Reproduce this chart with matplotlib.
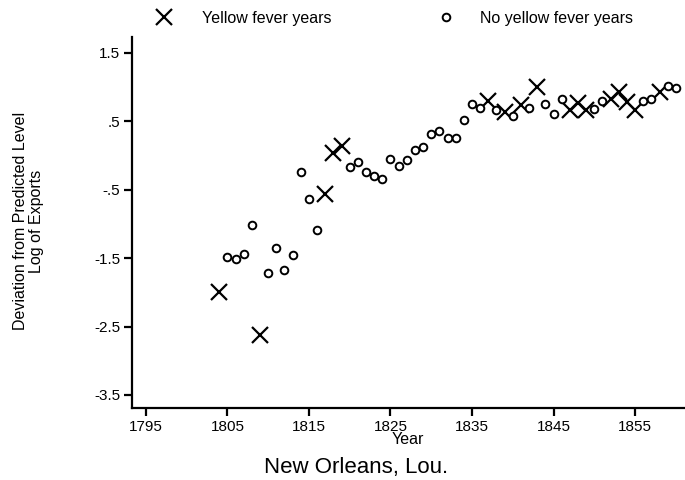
import matplotlib
matplotlib.use("Agg")
import matplotlib.pyplot as plt
from matplotlib.lines import Line2D

plt.rcParams['font.family'] = ['Liberation Sans', 'DejaVu Sans']

# Yellow fever years
yf_years = [1804, 1809, 1817, 1818, 1819, 1837, 1839, 1841, 1843, 1847, 1848,
            1849, 1852, 1853, 1854, 1855, 1858]
yf_vals = [-2.00, -2.62, -0.57, 0.03, 0.14, 0.80, 0.63, 0.73, 1.00, 0.67, 0.77,
           0.66, 0.82, 0.93, 0.78, 0.66, 0.92]

# No yellow fever years
nyf_years = [1805, 1806, 1807, 1808, 1810, 1811, 1812, 1813, 1814, 1815, 1816,
             1820, 1821, 1822, 1823, 1824, 1825, 1826, 1827, 1828, 1829, 1830,
             1831, 1832, 1833, 1834, 1835, 1836, 1838, 1840, 1842, 1844, 1845,
             1846, 1850, 1851, 1856, 1857, 1859, 1860]
nyf_vals = [-1.49, -1.51, -1.44, -1.02, -1.72, -1.35, -1.67, -1.46, -0.24, -0.63,
            -1.09, -0.17, -0.10, -0.24, -0.30, -0.34, -0.05, -0.15, -0.06, 0.08,
            0.13, 0.31, 0.35, 0.26, 0.26, 0.52, 0.75, 0.69, 0.67, 0.57, 0.69,
            0.75, 0.61, 0.82, 0.68, 0.79, 0.79, 0.83, 1.01, 0.98]

x_ticks = [1795, 1805, 1815, 1825, 1835, 1845, 1855]
y_ticks = [1.5, 0.5, -0.5, -1.5, -2.5, -3.5]
y_ticklabels = ['1.5', '.5', '-.5', '-1.5', '-2.5', '-3.5']

W, H = 685, 480
fig = plt.figure(figsize=(W/100, H/100), dpi=100)
ax = fig.add_axes([132/W, 1-408/H, (684-132)/W, (408-37)/H])

cross_kw = dict(linestyle='none', marker='x', markersize=12,
                markeredgewidth=1.6, color='black')
circ_kw = dict(linestyle='none', marker='o', markersize=5.5,
               markeredgewidth=1.4, markerfacecolor='white', markeredgecolor='black')

ax.plot(yf_years, yf_vals, **cross_kw)
ax.plot(nyf_years, nyf_vals, **circ_kw)

ax.set_xlim(1793.3, 1861.0)
ax.set_ylim(-3.69, 1.73)
ax.set_xticks(x_ticks)
ax.set_xticklabels([str(t) for t in x_ticks])
ax.set_yticks(y_ticks)
ax.set_yticklabels(y_ticklabels)
for s in ['top', 'right']:
    ax.spines[s].set_visible(False)
for s in ['left', 'bottom']:
    ax.spines[s].set_linewidth(1.6)
ax.tick_params(direction='out', length=6, width=1.6, labelsize=11, pad=2.5)

ax.set_xlabel('Year', fontsize=11.5, labelpad=-1)

fig.text(28.5/W, 1-221/H, 'Deviation from Predicted Level\nLog of Exports',
         rotation=90, ha='center', va='center', multialignment='center',
         fontsize=11.5, linespacing=1.0)

fig.text(356/W, 1-467/H, 'New Orleans, Lou.', ha='center', va='center', fontsize=16)

leg_y = 1-18/H
leg1 = fig.legend([Line2D([], [], **cross_kw)], ['Yellow fever years'],
                  loc='center left', bbox_to_anchor=(156/W, leg_y),
                  frameon=False, fontsize=11.5, handlelength=1.0,
                  handletextpad=1.85, borderpad=0, borderaxespad=0)
leg2 = fig.legend([Line2D([], [], **circ_kw)], ['No yellow fever years'],
                  loc='center left', bbox_to_anchor=(438/W, leg_y),
                  frameon=False, fontsize=11.5, handlelength=1.0,
                  handletextpad=1.6, borderpad=0, borderaxespad=0)

fig.savefig('out.png', dpi=100)
